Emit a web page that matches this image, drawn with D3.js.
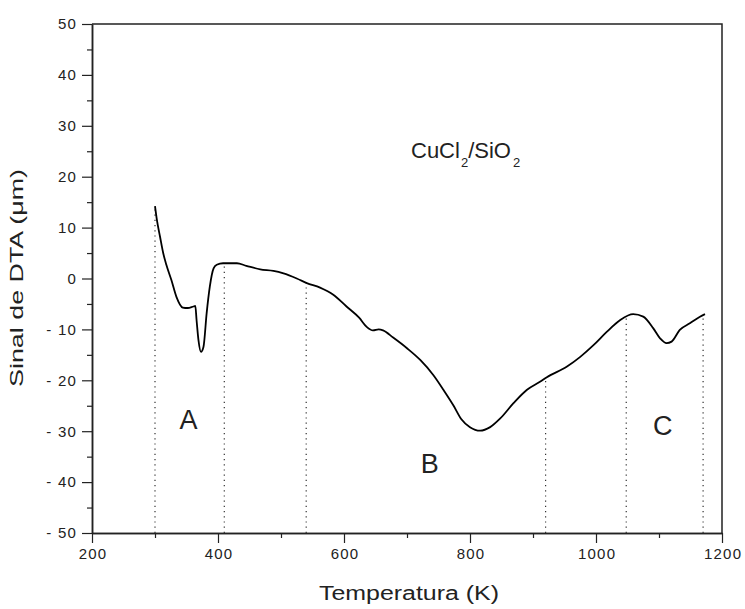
<!DOCTYPE html>
<html>
<head>
<meta charset="utf-8">
<script src="https://cdn.jsdelivr.net/npm/d3@7"></script>
<style>
  body { margin: 0; background: #fff; }
  text { font-family: "Liberation Sans", Arial, sans-serif; fill: #222; }
</style>
</head>
<body>
<svg width="745" height="609"></svg>
<script>
// temperature (K) and DTA signal
const temps = [300, 303, 308, 313, 318, 326, 334, 344, 352, 361, 364, 366, 369, 373, 377, 382, 387, 393, 398, 408,
  420, 430, 445, 467, 488, 504, 525, 541, 562, 583, 604, 624, 636, 646, 655, 662, 678, 700, 721, 742,
  758, 774, 786, 800, 816, 832, 848, 869, 890, 911, 922, 954, 975, 996, 1017, 1038, 1059, 1075, 1091, 1102,
  1112, 1120, 1133, 1149, 1165, 1173];
const dta = [14.2, 11.5, 8.2, 5.0, 2.7, -0.3, -3.6, -5.7, -5.8, -5.5, -5.4, -8.2, -12.1, -14.4, -13.4, -6.8, -1.6, 2.0, 2.7, 3.0,
  3.0, 3.0, 2.5, 1.8, 1.5, 1.0, 0.0, -0.9, -1.8, -3.2, -5.5, -7.7, -9.5, -10.2, -10.0, -10.2, -11.6, -13.7, -16.0, -19.0,
  -21.9, -25.0, -27.6, -29.2, -29.9, -29.2, -27.5, -24.5, -21.9, -20.3, -19.4, -17.3, -15.4, -13.1, -10.5, -8.2, -7.0, -7.5, -9.8, -11.8,
  -12.7, -12.4, -10.1, -8.8, -7.5, -7.0];

const dividers = [300, 410, 540, 920, 1048, 1170];
const regions = [
  { label: "A", t: 353, v: -29.5 },
  { label: "B", t: 736, v: -38.2 },
  { label: "C", t: 1106, v: -30.8 }
];
const xTicks = [200, 400, 600, 800, 1000, 1200];
const xMinor = [300, 500, 700, 900, 1100];
const yTicks = [-50, -40, -30, -20, -10, 0, 10, 20, 30, 40, 50];
const yMinor = [-45, -35, -25, -15, -5, 5, 15, 25, 35, 45];

const svg = d3.select("svg"),
  x = d3.scaleLinear().domain([200, 1200]).range([92, 722]),
  y = d3.scaleLinear().domain([-50, 50]).range([533, 24]);

const data = temps.map((t, i) => ({ t: t, v: dta[i] }));
const fmt = (d) => (d < 0 ? "- " + Math.abs(d) : String(d)); // hyphen with gap, no comma

// frame (top/right lines)
svg.append("path")
  .attr("d", `M${x(200)},${y(50)}H${x(1200)}V${y(-50)}`)
  .attr("fill", "none")
  .attr("stroke", "#222")
  .attr("stroke-width", 1.5);

// axes
const gx = svg.append("g").attr("transform", `translate(0,${y(-50)})`);
gx.call(d3.axisBottom(x).tickValues(xTicks).tickSize(10).tickPadding(5).tickSizeOuter(0).tickFormat(fmt));
svg.append("g").attr("transform", `translate(0,${y(-50)})`)
  .call(d3.axisBottom(x).tickValues(xMinor).tickSize(5).tickFormat("").tickSizeOuter(0));

const gy = svg.append("g").attr("transform", `translate(${x(200)},0)`);
gy.call(d3.axisLeft(y).tickValues(yTicks).tickSize(10).tickPadding(5).tickSizeOuter(0).tickFormat(fmt));
svg.append("g").attr("transform", `translate(${x(200)},0)`)
  .call(d3.axisLeft(y).tickValues(yMinor).tickSize(5).tickFormat("").tickSizeOuter(0));

svg.selectAll(".domain").attr("stroke", "#222").attr("stroke-width", 1.5);
svg.selectAll(".tick line").attr("stroke", "#222").attr("stroke-width", 1.2);
svg.selectAll(".tick text")
  .style("font-family", "'Liberation Sans', Arial, sans-serif")
  .style("font-size", "15px")
  .style("letter-spacing", "1.2px")
  .style("white-space", "pre")
  .attr("fill", "#222");
gx.selectAll(".tick text").attr("dx", "0.6px");

// dotted separators, each rising to the curve
const bis = d3.bisector((d) => d.t).left;
function curveAt(t) {
  const i = Math.max(1, Math.min(data.length - 1, bis(data, t)));
  const a = data[i - 1], b = data[i];
  return a.v + (b.v - a.v) * (t - a.t) / (b.t - a.t);
}
svg.append("g").selectAll("line")
  .data(dividers)
  .enter()
  .append("line")
  .attr("x1", (d) => x(d))
  .attr("x2", (d) => x(d))
  .attr("y1", y(-50))
  .attr("y2", (d) => y(curveAt(d)))
  .attr("stroke", "#333")
  .attr("stroke-width", 1.2)
  .attr("stroke-dasharray", "1.2,4");

// DTA curve
svg.append("path")
  .datum(data)
  .attr("fill", "none")
  .attr("stroke", "#000")
  .attr("stroke-width", 1.8)
  .attr("stroke-linejoin", "round")
  .attr("d", d3.line().x((d) => x(d.t)).y((d) => y(d.v)).curve(d3.curveMonotoneX));

// region letters
svg.append("g").selectAll("text")
  .data(regions)
  .enter()
  .append("text")
  .attr("x", (d) => x(d.t))
  .attr("y", (d) => y(d.v))
  .attr("text-anchor", "middle")
  .style("font-size", "27px")
  .text((d) => d.label);

// sample label CuCl2/SiO2
const lab = svg.append("text")
  .attr("x", 411)
  .attr("y", 158)
  .style("font-size", "22px");
lab.append("tspan").text("CuCl");
lab.append("tspan").attr("dy", 9).attr("dx", 1).style("font-size", "13px").text("2");
lab.append("tspan").attr("dy", -9).text("/SiO");
lab.append("tspan").attr("dy", 9).attr("dx", 2).style("font-size", "13px").text("2");

// axis titles
svg.append("text")
  .attr("x", 409)
  .attr("y", 600)
  .attr("text-anchor", "middle")
  .attr("textLength", 180)
  .attr("lengthAdjust", "spacingAndGlyphs")
  .style("font-size", "20px")
  .text("Temperatura (K)");

svg.append("text")
  .attr("transform", "translate(23,278) rotate(-90)")
  .attr("text-anchor", "middle")
  .attr("textLength", 218)
  .attr("lengthAdjust", "spacingAndGlyphs")
  .style("font-size", "19px")
  .text("Sinal de DTA (μm)");
</script>
</body>
</html>
